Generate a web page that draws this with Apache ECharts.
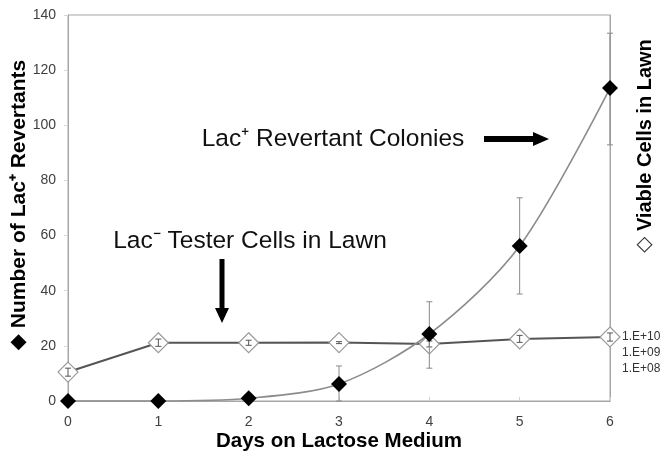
<!DOCTYPE html>
<html>
<head>
<meta charset="utf-8">
<script src="https://cdn.jsdelivr.net/npm/echarts/dist/echarts.min.js"></script>
<style>html,body{margin:0;padding:0;background:#fff;}#c{width:665px;height:456px;}</style>
</head>
<body>
<div id="c"></div>
<script>
// ---- data ----
const days = [0, 1, 2, 3, 4, 5, 6];
const revertants = [0, 0, 1, 6.2, 24.3, 56.2, 113.5];
const revertantsLow = [null, null, null, 0, 11.9, 38.8, 92.9];
const revertantsHigh = [null, null, null, 12.7, 36, 73.7, 133.4];
const viableCells = [6.3e7, 4.2e9, 4.2e9, 4.3e9, 3.5e9, 7.2e9, 9.5e9];
const viableLow = [3.5e7, 2.5e9, 2.9e9, 3.7e9, 2.3e9, 4.4e9, 5.3e9];
const viableHigh = [1.1e8, 7.1e9, 6.0e9, 4.9e9, 5.4e9, 1.2e10, 1.7e10];
const leftTicks = [0, 20, 40, 60, 80, 100, 120, 140];
const rightTickExponents = [8, 9, 10];

const FONT = 'Liberation Sans, Arial, sans-serif';

function errorBarSeries(lows, highs, yAxisIndex, color, z) {
  const data = [];
  days.forEach((d, i) => { if (lows[i] != null) data.push([d, lows[i], highs[i]]); });
  return {
    type: 'custom', yAxisIndex: yAxisIndex, z: z, silent: true,
    encode: { x: 0, y: [1, 2] },
    data: data,
    renderItem: function (params, api) {
      const x = api.value(0);
      const lo = api.coord([x, api.value(1)]);
      const hi = api.coord([x, api.value(2)]);
      const w = 3;
      const st = { stroke: color, lineWidth: 1 };
      return {
        type: 'group',
        children: [
          { type: 'line', shape: { x1: lo[0], y1: lo[1], x2: hi[0], y2: hi[1] }, style: st },
          { type: 'line', shape: { x1: lo[0] - w, y1: lo[1], x2: lo[0] + w, y2: lo[1] }, style: st },
          { type: 'line', shape: { x1: hi[0] - w, y1: hi[1], x2: hi[0] + w, y2: hi[1] }, style: st }
        ]
      };
    }
  };
}

const chart = echarts.init(document.getElementById('c'), null, { renderer: 'canvas' });
chart.setOption({
  animation: false,
  backgroundColor: '#fff',
  grid: { left: 68, right: 55, top: 15, bottom: 55, show: true, borderColor: '#a6a6a6', borderWidth: 1 },
  xAxis: {
    type: 'value', min: 0, max: 6, interval: 1,
    axisLine: { lineStyle: { color: '#a6a6a6', width: 1 } },
    axisTick: { show: true, inside: true, length: 4, lineStyle: { color: '#d0d0d0' } },
    splitLine: { show: false },
    axisLabel: { color: '#404040', fontFamily: FONT, fontSize: 14, margin: 14 }
  },
  yAxis: [
    {
      type: 'value', min: 0, max: 140, interval: 20,
      axisLine: { show: true, lineStyle: { color: '#a6a6a6', width: 1 } },
      axisTick: { show: true, length: 4, lineStyle: { color: '#d8d8d8' } },
      splitLine: { show: false },
      axisLabel: {
        color: '#404040', fontFamily: FONT, fontSize: 14, margin: 12,
        formatter: v => leftTicks.indexOf(v) >= 0 ? String(v) : ''
      }
    },
    {
      type: 'log', logBase: 10, min: 1e6, max: 1e30, interval: 1, position: 'right',
      axisLine: { show: true, lineStyle: { color: '#a6a6a6', width: 1 } },
      axisTick: { show: false },
      splitLine: { show: false },
      minorSplitLine: { show: false },
      axisLabel: {
        color: '#333', fontFamily: FONT, fontSize: 12, margin: 12, interval: 0,
        showMinLabel: true, showMaxLabel: true,
        formatter: function (v) {
          const e = Math.round(Math.log10(v));
          return rightTickExponents.indexOf(e) >= 0 ? '1.E+' + (e < 10 ? '0' + e : e) : '';
        }
      }
    }
  ],
  series: [
    {
      type: 'line', yAxisIndex: 1, z: 2,
      data: days.map((d, i) => [d, viableCells[i]]),
      lineStyle: { color: '#555', width: 2 },
      symbol: 'diamond', symbolSize: 20,
      itemStyle: { color: '#fff', borderColor: '#9a9a9a', borderWidth: 1.2 }
    },
    errorBarSeries(viableLow, viableHigh, 1, '#555', 3),
    errorBarSeries(revertantsLow, revertantsHigh, 0, '#8a8a8a', 4),
    {
      type: 'line', yAxisIndex: 0, z: 5,
      data: days.map((d, i) => [d, revertants[i]]),
      smooth: 0.3,
      lineStyle: { color: '#8c8c8c', width: 1.6 },
      symbol: 'diamond', symbolSize: 16,
      itemStyle: { color: '#000', borderColor: '#000', borderWidth: 0 }
    }
  ],
  graphic: [
    {
      type: 'text', x: 19, y: 205, rotation: Math.PI / 2,
      style: {
        text: '{d|◆} Number of Lac⁺ Revertants',
        fontFamily: FONT, fontSize: 21, fontWeight: 'bold', fill: '#000',
        align: 'center', verticalAlign: 'middle',
        rich: { d: { fontSize: 21, fontFamily: 'DejaVu Sans', fill: '#000' } }
      }
    },
    {
      type: 'text', x: 645, y: 146, rotation: Math.PI / 2,
      style: {
        text: '{d|◇} Viable Cells in Lawn',
        fontFamily: FONT, fontSize: 20, fontWeight: 'bold', fill: '#000',
        align: 'center', verticalAlign: 'middle',
        rich: { d: { fontSize: 21, fontFamily: 'DejaVu Sans', fill: '#333', fontWeight: 'normal' } }
      }
    },
    {
      type: 'text', x: 339, y: 441,
      style: {
        text: 'Days on Lactose Medium',
        fontFamily: FONT, fontSize: 20.5, fontWeight: 'bold', fill: '#000',
        align: 'center', verticalAlign: 'middle'
      }
    },
    {
      type: 'text', x: 333, y: 139,
      style: {
        text: 'Lac⁺ Revertant Colonies',
        fontFamily: FONT, fontSize: 24.5, fill: '#111',
        align: 'center', verticalAlign: 'middle'
      }
    },
    {
      type: 'text', x: 250, y: 241,
      style: {
        text: 'Lac⁻ Tester Cells in Lawn',
        fontFamily: FONT, fontSize: 24.5, fill: '#111',
        align: 'center', verticalAlign: 'middle'
      }
    },
    {
      type: 'polygon',
      shape: { points: [[484, 136], [533, 136], [533, 132], [549, 139], [533, 146], [533, 142], [484, 142]] },
      style: { fill: '#000' }
    },
    {
      type: 'polygon',
      shape: { points: [[219.5, 259], [224.5, 259], [224.5, 308], [229, 308], [222, 323], [215, 308], [219.5, 308]] },
      style: { fill: '#000' }
    }
  ]
});
</script>
</body>
</html>
